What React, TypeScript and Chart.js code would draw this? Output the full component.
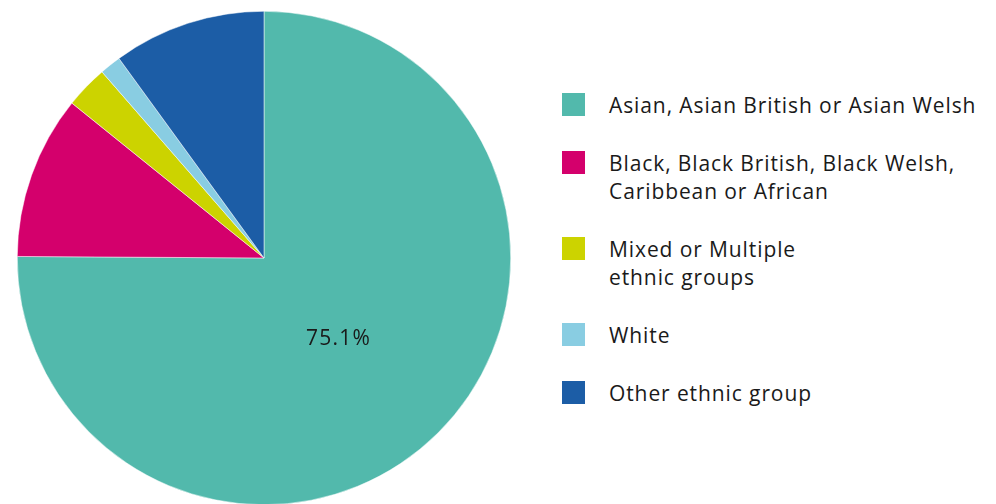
import { useEffect, useRef } from "react";
import Chart from "chart.js/auto";

// ethnic group shares, %
const categories: string[][] = [
  ["Asian, Asian British or Asian Welsh"],
  ["Black, Black British, Black Welsh,", "Caribbean or African"],
  ["Mixed or Multiple", "ethnic groups"],
  ["White"],
  ["Other ethnic group"],
];
const shares = [75.1, 10.7, 2.8, 1.4, 10.0];
const colours = ["#52b9ac", "#d4006c", "#ccd300", "#89cde2", "#1c5da6"];

const FONT = "'Open Sans', sans-serif";
const TEXT = "#1a1a1a";

const sliceLabels = {
  id: "sliceLabels",
  afterDatasetsDraw(chart: Chart) {
    const { ctx } = chart;
    const meta = chart.getDatasetMeta(0);
    ctx.save();
    ctx.font = `21px ${FONT}`;
    (ctx as any).letterSpacing = "1.2px";
    ctx.fillStyle = TEXT;
    ctx.textAlign = "center";
    ctx.textBaseline = "middle";
    meta.data.forEach((arc: any, i: number) => {
      if (shares[i] < 20) return;
      const { x, y, startAngle, endAngle, outerRadius } = arc.getProps(
        ["x", "y", "startAngle", "endAngle", "outerRadius"],
        true
      );
      const mid = (startAngle + endAngle) / 2;
      const r = outerRadius * 0.44;
      ctx.fillText(shares[i].toFixed(1) + "%", x + Math.cos(mid) * r - 2, y + Math.sin(mid) * r + 4);
    });
    ctx.restore();
  },
};

export default function App() {
  const chartRef = useRef<HTMLCanvasElement>(null);
  const chartInstance = useRef<Chart | null>(null);

  useEffect(() => {
    if (!chartRef.current) return;
    if (chartInstance.current) chartInstance.current.destroy();

    chartInstance.current = new Chart(chartRef.current, {
      type: "pie",
      data: {
        labels: categories,
        datasets: [
          {
            data: shares,
            backgroundColor: colours,
            borderColor: "#ffffff",
            borderWidth: 0.5,
          },
        ],
      },
      options: {
        responsive: false,
        animation: false,
        layout: { padding: { top: 11, bottom: 5, left: 17, right: 17 } },
        plugins: {
          legend: { display: false },
          tooltip: { enabled: false },
        },
      },
      plugins: [sliceLabels],
    });

    return () => {
      if (chartInstance.current) {
        chartInstance.current.destroy();
        chartInstance.current = null;
      }
    };
  }, []);

  return (
    <div
      style={{
        position: "absolute",
        left: 0,
        top: 0,
        width: 996,
        height: 504,
        overflow: "hidden",
        background: "#fff",
      }}
    >
      <canvas
        ref={chartRef}
        width={528}
        height={510}
        style={{ position: "absolute", left: 0, top: 0 }}
      />
      <div
        style={{
          position: "absolute",
          left: 562,
          top: 91,
          display: "flex",
          flexDirection: "column",
          gap: 30,
          fontFamily: FONT,
          fontSize: 21,
          letterSpacing: "0.9px",
          lineHeight: "28px",
          color: TEXT,
        }}
      >
        {categories.map((lines, i) => (
          <div key={i} style={{ display: "flex", alignItems: "flex-start" }}>
            <span
              style={{
                width: 23,
                height: 23,
                marginTop: 2,
                marginRight: 24,
                background: colours[i],
                flex: "none",
              }}
            />
            <span style={{ whiteSpace: "nowrap" }}>
              {lines.map((l, j) => (
                <div key={j}>{l}</div>
              ))}
            </span>
          </div>
        ))}
      </div>
    </div>
  );
}
